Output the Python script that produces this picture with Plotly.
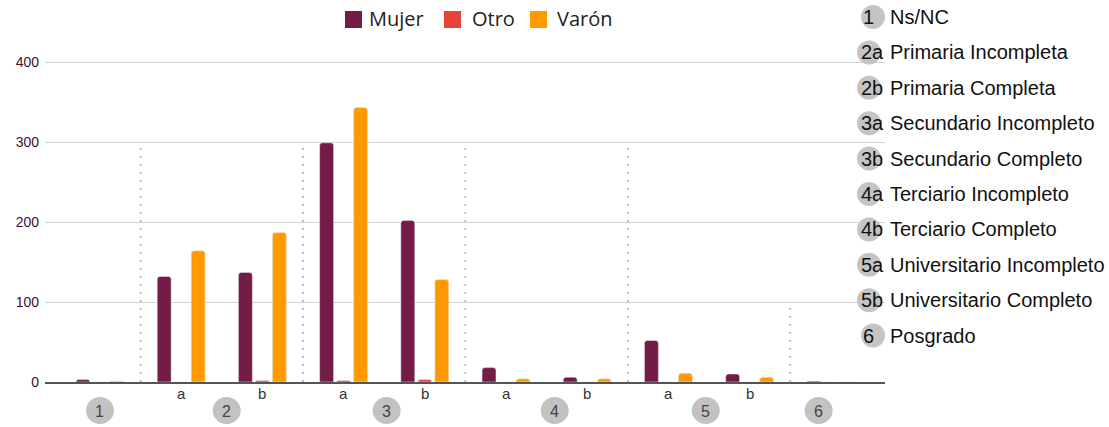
import plotly.graph_objects as go

# ---------------- data ----------------
categories = ["1", "2a", "2b", "3a", "3b", "4a", "4b", "5a", "5b", "6"]
mujer = [3, 132, 137, 299, 202, 18, 6, 52, 10, 1]
otro = [0, 0, 2, 2, 3, 0, 0, 0, 0, 0]
varon = [1, 164, 187, 343, 128, 4, 4, 11, 6, 0]
series_names = ["Mujer", "Otro", "Varón"]
series_colors = ["#741b47", "#e6433b", "#ff9900"]
groups = ["1", "2", "3", "4", "5", "6"]
separator_heights = [300, 300, 300, 300, 100]
y_ticks = [0, 100, 200, 300, 400]
level_names = ["Ns/NC", "Primaria Incompleta", "Primaria Completa",
               "Secundario Incompleto", "Secundario Completo",
               "Terciario Incompleto", "Terciario Completo",
               "Universitario Incompleto", "Universitario Completo", "Posgrado"]

# ---------------- layout geometry ----------------
W, H = 1109, 427
ML, MT = 45, 50
MB = H - 382
MR = W - 885
PW, PH = W - ML - MR, H - MT - MB
CAT_PX = 81.2
# small horizontal nudges (in category units) of the group badges, as drawn in the source
group_nudge = [0.0, 0.06, 0.03, 0.1, -0.04, -0.15]


def px_x(rx):
    return (rx - ML) / PW


def px_y(ry):
    return (H - MB - ry) / PH


fig = go.Figure()
for name, vals, col in zip(series_names, [mujer, otro, varon], series_colors):
    fig.add_trace(go.Bar(x=categories, y=vals, name=name, marker_color=col,
                         marker_cornerradius=3, showlegend=False))

annotations = []
shapes = []

# sub labels a/b
for i, c in enumerate(categories):
    if len(c) == 2:
        annotations.append(dict(x=i, y=px_y(393), xref="x", yref="paper", text=c[1],
                                xanchor="center", yanchor="middle", showarrow=False,
                                font=dict(family="Liberation Sans", size=15, color="#333")))

# group circles
for g, nudge in zip(groups, group_nudge):
    idx = [i for i, c in enumerate(categories) if c[0] == g]
    xm = sum(idx) / len(idx) + nudge
    shapes.append(dict(type="circle", xref="x", yref="paper", layer="above",
                       x0=xm - 14 / CAT_PX, x1=xm + 14 / CAT_PX,
                       y0=px_y(424), y1=px_y(397),
                       fillcolor="#c2c2c2", line=dict(width=0)))
    annotations.append(dict(x=xm, y=px_y(411), xref="x", yref="paper", text=g,
                            xanchor="center", yanchor="middle", showarrow=False,
                            font=dict(family="Liberation Sans", size=16, color="#444")))

# dotted separators between groups
bounds = []
for i in range(1, len(categories)):
    if categories[i][0] != categories[i - 1][0]:
        bounds.append(i - 0.5)
for b, h in zip(bounds, separator_heights):
    shapes.append(dict(type="line", xref="x", yref="y", x0=b, x1=b, y0=0, y1=h,
                       line=dict(color="#bdbdbd", width=2, dash="2px,6px"), layer="below"))

# top legend (manual)
leg_sq = [345, 444, 530]
leg_tx = [367, 470, 555]
for name, col, sx, tx in zip(series_names, series_colors, leg_sq, leg_tx):
    shapes.append(dict(type="rect", xref="paper", yref="paper",
                       x0=px_x(sx), x1=px_x(sx + 17), y0=px_y(28), y1=px_y(11),
                       fillcolor=col, line=dict(width=0)))
    annotations.append(dict(x=px_x(tx), y=px_y(19), xref="paper", yref="paper", text=name,
                            xanchor="left", yanchor="middle", showarrow=False,
                            font=dict(family="Open Sans", size=20, color="#222")))

# right legend
for k, (c, nm) in enumerate(zip(categories, level_names)):
    yc = 17 + 35.4 * k
    cx0 = 861 if len(c) == 1 else 857
    shapes.append(dict(type="circle", xref="paper", yref="paper", layer="above",
                       x0=px_x(cx0), x1=px_x(cx0 + 24), y0=px_y(yc + 12), y1=px_y(yc - 12),
                       fillcolor="#c4c4c4", line=dict(width=0)))
    annotations.append(dict(x=px_x(868 if len(c) == 1 else 872), y=px_y(yc), xref="paper", yref="paper",
                            text=c, xanchor="center", yanchor="middle", showarrow=False,
                            font=dict(family="Liberation Sans", size=20, color="#111")))
    annotations.append(dict(x=px_x(888), y=px_y(yc), xref="paper", yref="paper",
                            text=nm, xanchor="left", yanchor="middle", showarrow=False,
                            font=dict(family="Liberation Sans", size=20, color="#111")))

fig.update_layout(
    width=W, height=H,
    margin=dict(l=ML, r=MR, t=MT, b=MB),
    paper_bgcolor="white", plot_bgcolor="white",
    barmode="group", bargap=0.372, bargroupgap=0.18,
    annotations=annotations, shapes=shapes,
    xaxis=dict(type="category", categoryorder="array", categoryarray=categories,
               range=[-0.677, 9.667], showticklabels=False, showgrid=False,
               showline=True, linecolor="#555", linewidth=1.5, ticks="", zeroline=False,
               fixedrange=True),
    yaxis=dict(range=[0, PH / 0.8], tickvals=y_ticks, showgrid=True,
               gridcolor="#d3d3d3", gridwidth=1, zeroline=False, ticks="",
               ticklabelstandoff=5,
               tickfont=dict(family="Liberation Sans", size=14, color="#3d1233")),
    font=dict(family="Liberation Sans"),
)

fig.write_html("out.html", config={"displayModeBar": False},
               post_script="document.body.style.margin='0';document.body.style.overflow='hidden';")
